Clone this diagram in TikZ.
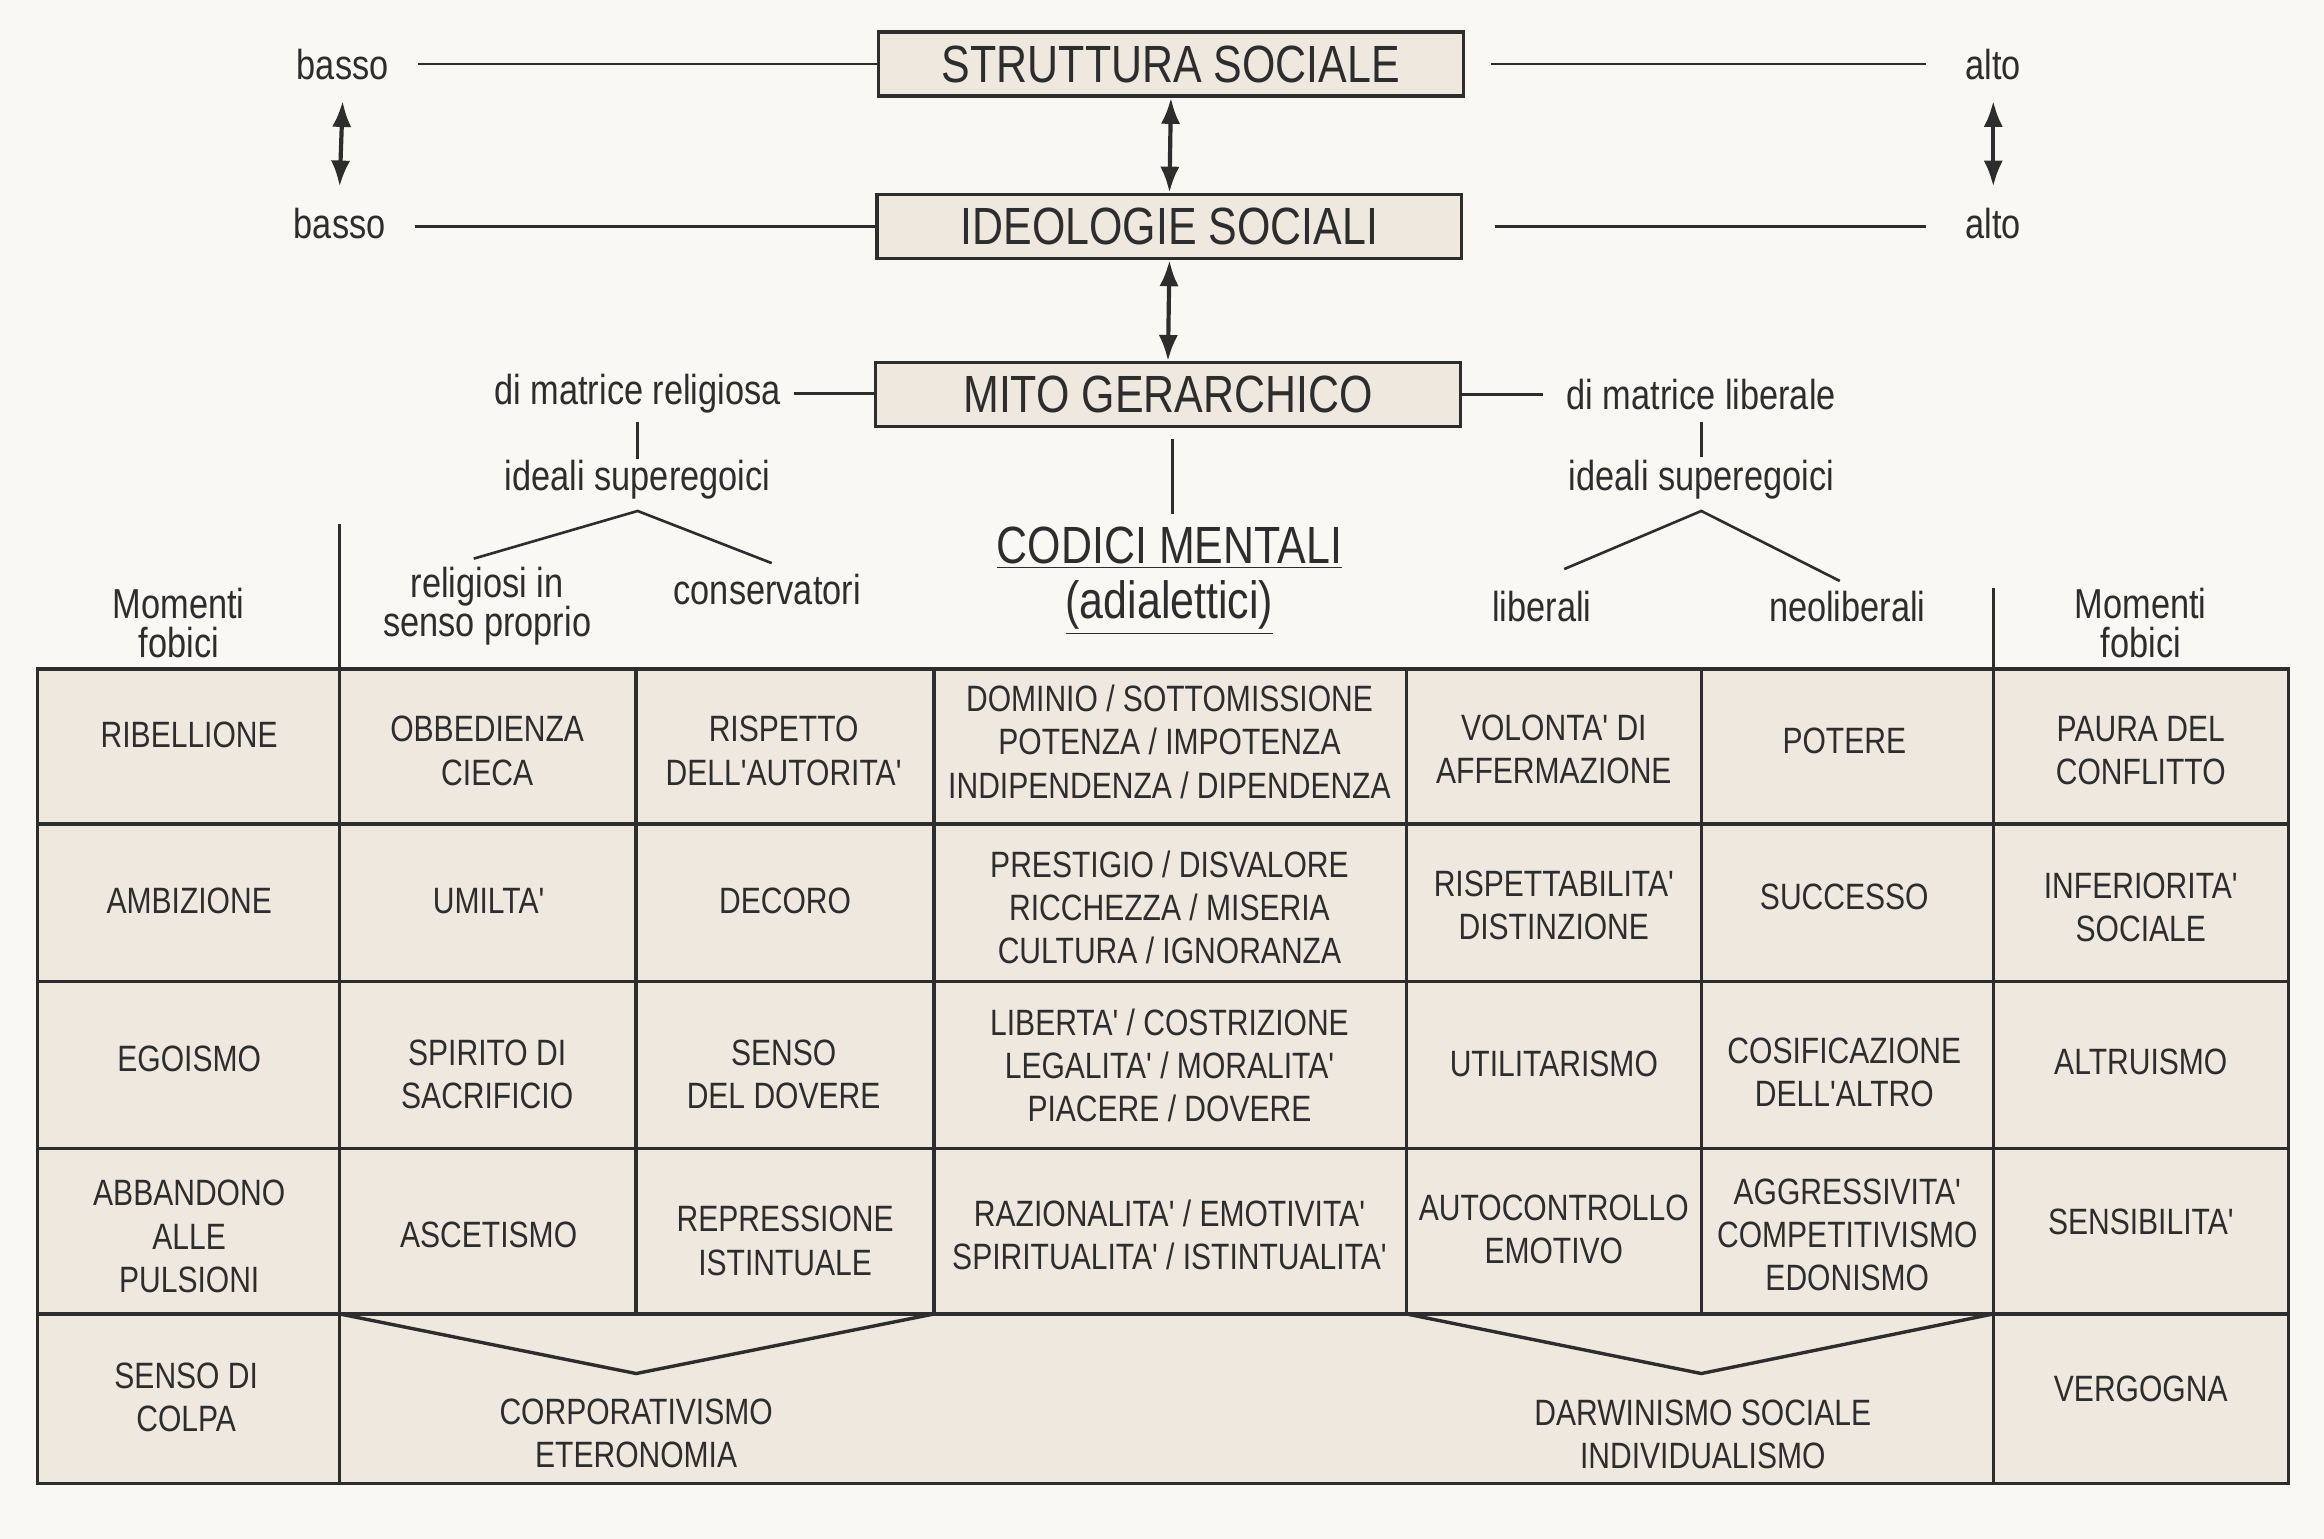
\documentclass[tikz,border=0pt]{standalone}
\usepackage{fontspec}
\setmainfont{Liberation Sans}
\newfontfamily\narrowfont[FakeStretch=0.82]{Liberation Sans}
\usetikzlibrary{arrows.meta}
\definecolor{paper}{RGB}{250,248,243}
\definecolor{cellfill}{RGB}{238,232,222}
\definecolor{ink}{RGB}{45,45,45}
\tikzset{
  titlebox/.style={draw=ink, fill=cellfill, line width=1.3pt, minimum width=7.85cm, minimum height=0.86cm, inner sep=0pt, font=\narrowfont\fontsize{20}{22}\selectfont, text=ink},
  cell/.style={align=center, font=\narrowfont\fontsize{14}{16.5}\selectfont, text=ink, inner sep=0pt},
  lbl/.style={align=center, font=\narrowfont\fontsize{16}{13}\selectfont, text=ink, inner sep=1pt},
  twoline/.style={lbl, font=\narrowfont\fontsize{16}{15}\selectfont},
  rule/.style={draw=ink, line width=1pt},
  grid/.style={draw=ink, line width=1.3pt},
  dbl/.style={draw=ink, line width=1.6pt, {Latex[length=3.5mm,width=2.6mm]}-{Latex[length=3.5mm,width=2.6mm]}}
}
\begin{document}
\begin{tikzpicture}[x=0.02cm, y=-0.02cm]
	\fill[paper] (0,0) rectangle (1560,1033);
	\useasboundingbox (0,0) rectangle (1560,1033);
	% top boxes
	\node[titlebox] (struttura) at (786,43) {STRUTTURA SOCIALE};
	\node[titlebox] (ideologie) at (785,152) {IDEOLOGIE SOCIALI};
	\node[titlebox] (mito) at (784,265) {MITO GERARCHICO};
	\node[lbl] (basso1) at (230,43) {basso};
	\node[lbl] (basso2) at (228,150) {basso};
	\node[lbl] (alto1) at (1338,43) {alto};
	\node[lbl] (alto2) at (1338,150) {alto};
	\draw[rule] ([xshift=10]basso1.east |- struttura.west) -- (struttura.west);
	\draw[rule] ([xshift=10]struttura.east) -- ([xshift=-14]alto1.west |- struttura.east);
	\draw[rule] ([xshift=10]basso2.east |- ideologie.west) -- (ideologie.west);
	\draw[rule] ([xshift=12]ideologie.east) -- ([xshift=-14]alto2.west |- ideologie.east);
	\draw[dbl] ([yshift=-7]basso1.south) -- ([yshift=7]basso2.north);
	\draw[dbl] ([yshift=-7]alto1.south) -- ([yshift=7]alto2.north);
	\draw[dbl] (struttura.south) -- (ideologie.north);
	\draw[dbl] (ideologie.south) -- (mito.north);
	% branches
	\node[lbl] (relig) at (428,264) {di matrice religiosa};
	\node[lbl] (liber) at (1142,265) {di matrice liberale};
	\draw[rule] ([xshift=4]relig.east) -- (relig.east -| mito.west);
	\draw[rule] (mito.east) -- ([xshift=-8]liber.west);
	\node[lbl] (idealiL) at (428,322) {ideali superegoici};
	\node[lbl] (idealiR) at (1142,322) {ideali superegoici};
	\draw[rule] (428,283) -- (428,308);
	\draw[rule] (1142,283) -- (1142,307);
	\coordinate (forkL) at (428,343);
	\coordinate (forkR) at (1142,343);
	\draw[rule] (318,375) -- (forkL) -- (518,378);
	\draw[rule] (1050,382) -- (forkR) -- (1235,390);
	\draw[rule] (787,295) -- (787,345);
	\node[lbl, font=\narrowfont\fontsize{20}{22}\selectfont] (codici) at (785,368) {\underline{CODICI MENTALI}};
	\node[lbl, font=\narrowfont\fontsize{20}{22}\selectfont] (adial) at (785,408) {\underline{(adialettici)}};
	\node[twoline] (propri) at (327,407) {religiosi in\\senso proprio};
	\node[lbl] (conserv) at (515,396) {conservatori};
	\node[lbl] (liberali) at (1035,407) {liberali};
	\node[lbl] (neolib) at (1240,407) {neoliberali};
	\node[twoline] (fobL) at (120,418) {Momenti\\fobici};
	\node[twoline] (fobR) at (1437,418) {Momenti\\fobici};
	\draw[grid] (228,352) -- (228,449);
	\draw[grid] (1338,395) -- (1338,449);
	% table
	\fill[cellfill] (25,449) rectangle (1536,996);
	\draw[grid] (25,449) rectangle (1536,996);
	\foreach \yy in {553,659,771,882} \draw[grid] (25,\yy) -- (1536,\yy);
	\foreach \xx in {228,1338} \draw[grid] (\xx,449) -- (\xx,996);
	\foreach \xx in {427,627,944,1142} \draw[grid] (\xx,449) -- (\xx,882);
	\draw[grid] (228,882) -- (427,922) -- (627,882);
	\draw[grid] (944,882) -- (1142,922) -- (1338,882);
	% row 1
	\node[cell] (r1a) at (127,493) {RIBELLIONE};
	\node[cell] (r1b) at (327,504) {OBBEDIENZA\\CIECA};
	\node[cell] (r1c) at (526,504) {RISPETTO\\DELL'AUTORITA'};
	\node[cell] (r1d) at (785,498) {DOMINIO / SOTTOMISSIONE\\POTENZA / IMPOTENZA\\INDIPENDENZA / DIPENDENZA};
	\node[cell] (r1e) at (1043,503) {VOLONTA' DI\\AFFERMAZIONE};
	\node[cell] (r1f) at (1238,497) {POTERE};
	\node[cell] (r1g) at (1437,504) {PAURA DEL\\CONFLITTO};
	% row 2
	\node[cell] (r2a) at (127,605) {AMBIZIONE};
	\node[cell] (r2b) at (328,605) {UMILTA'};
	\node[cell] (r2c) at (527,605) {DECORO};
	\node[cell] (r2d) at (785,609) {PRESTIGIO / DISVALORE\\RICCHEZZA / MISERIA\\CULTURA / IGNORANZA};
	\node[cell] (r2e) at (1043,608) {RISPETTABILITA'\\DISTINZIONE};
	\node[cell] (r2f) at (1238,602) {SUCCESSO};
	\node[cell] (r2g) at (1437,609) {INFERIORITA'\\SOCIALE};
	% row 3
	\node[cell] (r3a) at (127,711) {EGOISMO};
	\node[cell] (r3b) at (327,721) {SPIRITO DI\\SACRIFICIO};
	\node[cell] (r3c) at (526,721) {SENSO\\DEL DOVERE};
	\node[cell] (r3d) at (785,715) {LIBERTA' / COSTRIZIONE\\LEGALITA' / MORALITA'\\PIACERE / DOVERE};
	\node[cell] (r3e) at (1043,714) {UTILITARISMO};
	\node[cell] (r3f) at (1238,720) {COSIFICAZIONE\\DELL'ALTRO};
	\node[cell] (r3g) at (1437,713) {ALTRUISMO};
	% row 4
	\node[cell] (r4a) at (127,830) {ABBANDONO\\ALLE\\PULSIONI};
	\node[cell] (r4b) at (328,829) {ASCETISMO};
	\node[cell] (r4c) at (527,833) {REPRESSIONE\\ISTINTUALE};
	\node[cell] (r4d) at (785,829) {RAZIONALITA' / EMOTIVITA'\\SPIRITUALITA' / ISTINTUALITA'};
	\node[cell] (r4e) at (1043,825) {AUTOCONTROLLO\\EMOTIVO};
	\node[cell] (r4f) at (1240,829) {AGGRESSIVITA'\\COMPETITIVISMO\\EDONISMO};
	\node[cell] (r4g) at (1437,820) {SENSIBILITA'};
	% row 5
	\node[cell] (r5a) at (125,938) {SENSO DI\\COLPA};
	\node[cell] (r5b) at (427,962) {CORPORATIVISMO\\ETERONOMIA};
	\node[cell] (r5c) at (1143,963) {DARWINISMO SOCIALE\\INDIVIDUALISMO};
	\node[cell] (r5d) at (1437,932) {VERGOGNA};
\end{tikzpicture}
\end{document}
